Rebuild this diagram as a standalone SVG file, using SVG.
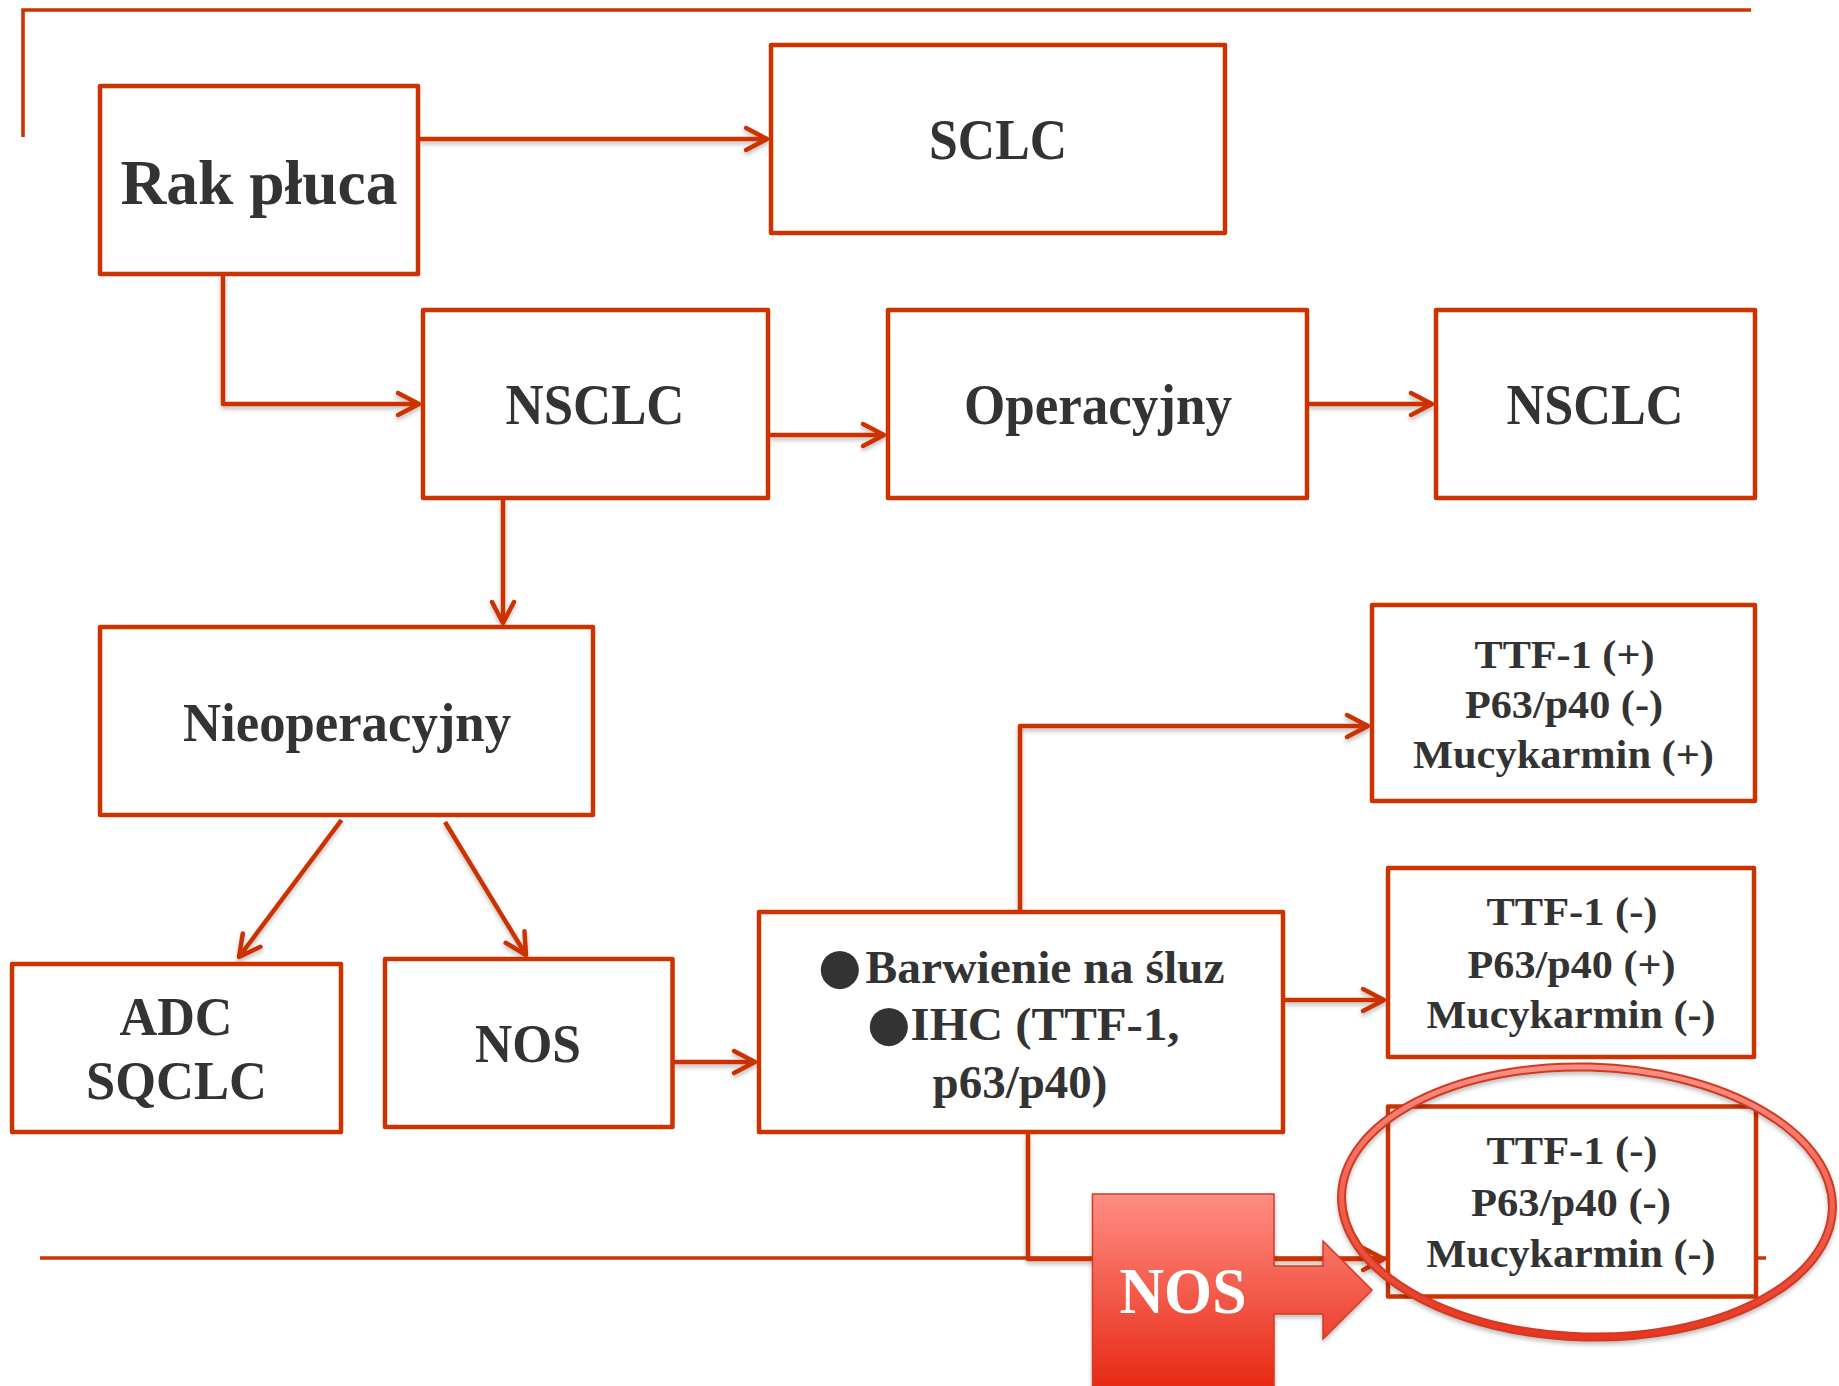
<svg xmlns="http://www.w3.org/2000/svg" width="1839" height="1386" viewBox="0 0 1839 1386">
<style>
.box{fill:#fff;stroke:#CC3300;stroke-width:4.5;stroke-linejoin:round}
.con{fill:none;stroke:#CC3300;stroke-width:4.5;stroke-linejoin:round}
.deco{fill:none;stroke:#CC3300;stroke-width:3.6}
.t{font-family:"Liberation Serif","Times New Roman",serif;font-weight:bold;fill:#333;text-anchor:middle}
.big{font-size:56px}
.mid{font-size:46px}
.sm{font-size:40px}
.bul{font-family:"DejaVu Sans",sans-serif;font-weight:normal;font-size:50px;fill:#333}
</style>
<defs>
<marker id="arr" markerUnits="userSpaceOnUse" markerWidth="30" markerHeight="30" viewBox="-26 -15 30 30" refX="0" refY="0" orient="auto">
<path d="M-21,-11 L0,0 L-21,11" fill="none" stroke="#CC3300" stroke-width="4.5" stroke-linecap="round" stroke-linejoin="round"/>
</marker>
<filter id="sh" x="-10%" y="-10%" width="120%" height="130%">
<feDropShadow dx="0" dy="3" stdDeviation="2" flood-color="#000" flood-opacity="0.25"/>
</filter>
<linearGradient id="nosg" gradientUnits="userSpaceOnUse" x1="0" y1="1194" x2="0" y2="1386">
<stop offset="0" stop-color="#FF8E84"/>
<stop offset="1" stop-color="#E72A14"/>
</linearGradient>
<linearGradient id="ringg" gradientUnits="userSpaceOnUse" x1="0" y1="1063" x2="0" y2="1340">
<stop offset="0" stop-color="#FA8F83"/>
<stop offset="1" stop-color="#E9341F"/>
</linearGradient>
</defs>

<g id="decor">
<path class="deco" d="M23,137 V10 H1751"/>
<path class="deco" d="M40,1258 H1766"/>
</g>

<g id="connectors" filter="url(#sh)">
<path class="con" d="M420,139 H767" marker-end="url(#arr)"/>
<path class="con" d="M223,276 V404 H419" marker-end="url(#arr)"/>
<path class="con" d="M770,435 H884" marker-end="url(#arr)"/>
<path class="con" d="M1309,404 H1432" marker-end="url(#arr)"/>
<path class="con" d="M503,500 V623" marker-end="url(#arr)"/>
<path class="con" d="M341.5,820 L239,957" marker-end="url(#arr)"/>
<path class="con" d="M445,822 L526,955" marker-end="url(#arr)"/>
<path class="con" d="M674,1062 H755" marker-end="url(#arr)"/>
<path class="con" d="M1020,910 V726 H1368" marker-end="url(#arr)"/>
<path class="con" d="M1285,1000 H1384" marker-end="url(#arr)"/>
<path class="con" d="M1028,1134 V1259 H1384" marker-end="url(#arr)"/>
</g>

<g id="rak">
<rect class="box" x="100" y="86" width="318" height="188"/>
<text class="t" x="259" y="204" font-size="64" textLength="277" lengthAdjust="spacingAndGlyphs">Rak płuca</text>
</g>
<g id="sclc">
<rect class="box" x="771" y="45" width="454" height="188"/>
<text class="t" x="998" y="159" font-size="57" textLength="138" lengthAdjust="spacingAndGlyphs">SCLC</text>
</g>
<g id="nsclc1">
<rect class="box" x="423" y="310" width="345" height="188"/>
<text class="t big" x="595" y="424" textLength="179" lengthAdjust="spacingAndGlyphs">NSCLC</text>
</g>
<g id="operacyjny">
<rect class="box" x="888" y="310" width="419" height="188"/>
<text class="t big" x="1098" y="424" textLength="268" lengthAdjust="spacingAndGlyphs">Operacyjny</text>
</g>
<g id="nsclc2">
<rect class="box" x="1436" y="310" width="319" height="188"/>
<text class="t big" x="1595" y="424" textLength="177" lengthAdjust="spacingAndGlyphs">NSCLC</text>
</g>
<g id="nieoperacyjny">
<rect class="box" x="100" y="627" width="493" height="188"/>
<text class="t" x="347" y="741" font-size="54" textLength="328" lengthAdjust="spacingAndGlyphs">Nieoperacyjny</text>
</g>
<g id="adc">
<rect class="box" x="12" y="964" width="329" height="168"/>
<text class="t" x="176" y="1035" font-size="54" textLength="113" lengthAdjust="spacingAndGlyphs">ADC</text>
<text class="t" x="176.5" y="1099" font-size="54" textLength="181" lengthAdjust="spacingAndGlyphs">SQCLC</text>
</g>
<g id="nos">
<rect class="box" x="385" y="959" width="287.5" height="168"/>
<text class="t" x="528" y="1061.5" font-size="54" textLength="106" lengthAdjust="spacingAndGlyphs">NOS</text>
</g>
<g id="barwienie">
<rect class="box" x="759" y="912" width="524" height="220"/>
<text class="t mid" style="text-anchor:start" y="983"><tspan class="bul" x="818">●</tspan><tspan x="865.6" textLength="359" lengthAdjust="spacingAndGlyphs">Barwienie na śluz</tspan></text>
<text class="t mid" style="text-anchor:start" y="1040"><tspan class="bul" x="867">●</tspan><tspan x="910.6" textLength="269" lengthAdjust="spacingAndGlyphs">IHC (TTF-1,</tspan></text>
<text class="t mid" x="1020" y="1098" textLength="175" lengthAdjust="spacingAndGlyphs">p63/p40)</text>
</g>
<g id="ttf1">
<rect class="box" x="1372" y="605" width="383" height="196"/>
<text class="t sm" x="1564.5" y="667.5" textLength="180" lengthAdjust="spacingAndGlyphs">TTF-1 (+)</text>
<text class="t sm" x="1564" y="717.5" textLength="198" lengthAdjust="spacingAndGlyphs">P63/p40 (-)</text>
<text class="t sm" x="1563.5" y="767.5" textLength="301" lengthAdjust="spacingAndGlyphs">Mucykarmin (+)</text>
</g>
<g id="ttf2">
<rect class="box" x="1388" y="868" width="366" height="189"/>
<text class="t sm" x="1572" y="925" textLength="171" lengthAdjust="spacingAndGlyphs">TTF-1 (-)</text>
<text class="t sm" x="1571.6" y="977.5" textLength="208" lengthAdjust="spacingAndGlyphs">P63/p40 (+)</text>
<text class="t sm" x="1571" y="1028" textLength="289" lengthAdjust="spacingAndGlyphs">Mucykarmin (-)</text>
</g>
<g id="ttf3">
<rect class="box" x="1388" y="1106.5" width="368" height="190"/>
<text class="t sm" x="1572" y="1164" textLength="171" lengthAdjust="spacingAndGlyphs">TTF-1 (-)</text>
<text class="t sm" x="1571" y="1216" textLength="200" lengthAdjust="spacingAndGlyphs">P63/p40 (-)</text>
<text class="t sm" x="1571" y="1266.5" textLength="289" lengthAdjust="spacingAndGlyphs">Mucykarmin (-)</text>
</g>

<g id="nos-callout" filter="url(#sh)">
<path d="M1092.5,1194 H1274 V1266 H1323 V1241 L1372,1290 L1323,1339 V1314 H1274 V1392 H1092.5 Z" fill="url(#nosg)" stroke="#D33A20" stroke-width="1.5"/>
<text class="t" x="1183" y="1313" font-size="65" fill="#fff" style="fill:#fff" textLength="127" lengthAdjust="spacingAndGlyphs">NOS</text>
</g>

<g id="highlight-ellipse" filter="url(#sh)">
<ellipse cx="1587" cy="1202" rx="245.5" ry="135" transform="rotate(1.5 1587 1202)" fill="none" stroke="#CF3A22" stroke-width="9"/>
<ellipse cx="1587" cy="1202" rx="245.5" ry="135" transform="rotate(1.5 1587 1202)" fill="none" stroke="url(#ringg)" stroke-width="5"/>
</g>
</svg>
